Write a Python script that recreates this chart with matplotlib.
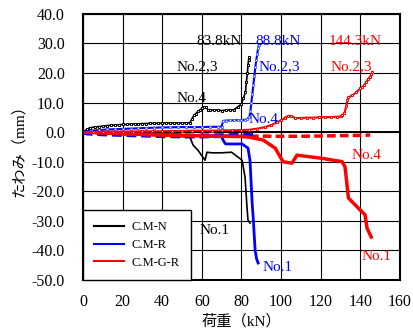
import matplotlib.pyplot as plt
from matplotlib.lines import Line2D

# --- data (load kN, deflection mm) ---
# C.M-N (black)
n1_x = [0, 10, 20, 30, 40, 50, 54, 55.6, 58, 61.6, 62.6, 65, 70, 75, 80.3, 81.8, 82.8, 83.3, 84.3]
n1_y = [0, -0.3, -0.6, -0.9, -1.2, -1.5, -1.7, -4.4, -6.1, -9.5, -6.8, -7.0, -7.0, -6.8, -9.5, -15.2, -25.4, -29.8, -30.8]
n23_x = [0, 2, 3.5, 6, 8, 10, 12, 14, 16, 18, 20, 22, 24, 26, 28, 30, 32, 34, 36, 38, 40, 42, 44, 46,
         48, 50, 52, 54, 55, 56, 57, 58, 59, 60, 61, 62, 63, 64, 66, 68, 70, 72, 74, 76, 78, 80, 81,
         82, 82.5, 83, 83.3, 83.6, 83.8]
n23_y = [0, 1.0, 1.5, 1.7, 1.9, 2.0, 2.2, 2.3, 2.4, 2.5, 2.6, 2.6, 2.7, 2.8, 2.8, 2.9, 2.9, 3.0, 3.0,
         3.0, 3.0, 3.1, 3.1, 3.1, 3.1, 3.1, 3.1, 3.2, 4.5, 5.7, 6.3, 7.0, 7.5, 8.0, 8.5, 8.6, 7.5, 7.6,
         7.4, 7.5, 7.3, 7.4, 7.6, 7.5, 8.5, 9.5, 11.5, 13.5, 17.0, 20.0, 22.7, 24.4, 25.4]
n4_x = [0, 10, 20, 30, 40, 50, 60, 70, 80, 83.8]
n4_y = [0, -0.4, -0.6, -0.8, -0.9, -1.0, -1.1, -1.1, -1.2, -1.2]

# C.M-R (blue)
r1_x = [0, 10, 20, 30, 40, 50, 60, 70, 70.7, 72, 76, 80.3, 83.3, 84.3, 85.4, 86, 86.9, 87.6, 88.4]
r1_y = [0, -0.2, -0.4, -0.6, -0.8, -1.0, -1.2, -1.4, -2.7, -4.0, -4.0, -4.0, -5.4, -9.5, -24.0, -29.8, -40.0, -42.8, -44.3]
r23_x = [0, 4, 8, 12, 16, 20, 24, 28, 32, 36, 40, 44, 48, 52, 56, 60, 64, 68, 70, 70.7, 72, 74, 76,
         78, 80, 82, 83, 84, 84.5, 85, 85.5, 86, 86.5, 87, 87.5, 88, 88.4, 88.8]
r23_y = [0, 0.5, 0.7, 0.9, 1.0, 1.1, 1.2, 1.3, 1.4, 1.5, 1.6, 1.6, 1.7, 1.7, 1.7, 1.7, 1.8, 1.8, 1.9,
         3.8, 3.9, 4.0, 4.0, 4.1, 4.1, 4.2, 4.5, 5.2, 7.0, 10.0, 13.0, 16.0, 19.0, 22.0, 24.5, 26.5,
         28.5, 29.5]
r4_x = [0, 2, 10, 20, 30, 40, 50, 54, 60, 70, 80, 88]
r4_y = [0, -0.3, -0.6, -0.8, -1.0, -1.2, -1.3, -1.35, -1.3, -1.2, -1.1, -1.0]

# C.M-G-R (red)
g1_x = [0, 20, 40, 60, 80, 84, 91, 97, 101, 105.5, 108, 120, 130.8, 132.3, 134, 140, 142.4, 143.4, 145.5]
g1_y = [0, -0.6, -1.0, -1.3, -1.5, -1.7, -2.7, -5.4, -10.0, -10.5, -7.8, -8.8, -10.0, -11.8, -22.3, -26.4, -28.0, -32.5, -35.5]
g23_x = [0, 5, 10, 15, 20, 25, 30, 35, 40, 45, 50, 55, 60, 65, 70, 75, 80, 84, 88, 92, 95, 98, 100,
         102, 103.5, 105, 107, 110, 113, 116, 119, 122, 125, 128, 130, 131, 132, 133, 133.5, 134,
         136, 138, 140, 141, 142, 143, 144, 145, 145.5, 146]
g23_y = [0, 0.1, 0.1, 0.2, 0.2, 0.2, 0.3, 0.3, 0.3, 0.4, 0.4, 0.5, 0.5, 0.5, 0.6, 0.6, 0.7, 0.8, 1.2,
         1.7, 2.4, 3.3, 4.0, 4.9, 5.5, 5.5, 4.8, 4.8, 4.9, 4.9, 5.0, 5.1, 5.1, 5.2, 5.3, 5.8, 6.5, 9.0,
         11.0, 11.8, 12.4, 13.5, 14.8, 15.2, 15.9, 17.0, 18.0, 18.8, 19.6, 20.3]
g4_x = [0, 20, 40, 60, 80, 89, 100, 110, 120, 130, 140, 145]
g4_y = [0, -0.5, -0.9, -1.2, -1.4, -1.35, -1.4, -1.4, -1.3, -1.2, -1.1, -1.0]

x_ticks = list(range(0, 161, 20))
y_ticks = list(range(-50, 41, 10))

serif = ['Liberation Serif', 'Noto Sans CJK JP']

fig = plt.figure(figsize=(4.14, 3.32), dpi=100)
ax = fig.add_axes([0.2005, 0.157, 0.7655, 0.801])

ax.set_xlim(0, 160)
ax.set_ylim(-50, 40)
ax.set_xticks(x_ticks)
ax.set_yticks(y_ticks)
ax.set_yticklabels(['%.1f' % v for v in y_ticks])
ax.grid(True, color='black', lw=0.8)
ax.set_axisbelow(True)
ax.tick_params(length=0, labelsize=11.5)
ax.tick_params(axis='y', pad=13)
ax.tick_params(axis='x', pad=10)
for lab in ax.get_xticklabels() + ax.get_yticklabels():
    lab.set_family(serif)
for s in ax.spines.values():
    s.set_linewidth(1.5)
ax.axhline(0, color='black', lw=1.4, zorder=1)

mk = dict(marker='s', ms=1.8, mfc='white', mew=0.7)

# No.4 dashed
ax.plot(n4_x, n4_y, color='black', lw=1.2, ls=(0, (3, 1.5)), zorder=1.5)
ax.plot(g4_x, g4_y, color='red', lw=2.5, ls=(0, (2.5, 1.2)))
ax.plot(r4_x, r4_y, color='blue', lw=3.5, ls=(0, (2, 1)))
# No.1 solid
ax.plot(n1_x, n1_y, color='black', lw=1.2)
ax.plot(r1_x, r1_y, color='blue', lw=2.0)
ax.plot(g1_x, g1_y, color='red', lw=2.5)
# No.2,3 with markers
ax.plot(n23_x, n23_y, color='black', lw=1.2, mec='black', **mk)
ax.plot(r23_x, r23_y, color='blue', lw=1.5, mec='#4d6bff', **mk)
ax.plot(g23_x, g23_y, color='red', lw=1.5, mec='red', **mk)

# annotations
tk = dict(fontsize=11, family=serif, ha='left', va='center')
ax.text(57, 30.8, '83.8kN', color='black', **tk)
ax.text(87, 30.8, '88.8kN', color='blue', **tk)
ax.text(124, 30.8, '144.3kN', color='red', **tk)
ax.text(47, 22.3, 'No.2,3', color='black', **tk)
ax.text(88.5, 22.3, 'No.2,3', color='blue', **tk)
ax.text(125, 22.3, 'No.2,3', color='red', **tk)
ax.text(47, 11.5, 'No.4', color='black', **tk)
ax.text(83.5, 4.4, 'No.4', color='blue', **tk)
ax.text(135.5, -7.8, 'No.4', color='red', **tk)
ax.text(59, -33.2, 'No.1', color='black', **tk)
ax.text(90.5, -45.7, 'No.1', color='blue', **tk)
ax.text(140.5, -42, 'No.1', color='red', **tk)

handles = [Line2D([], [], color='black', lw=1.5),
           Line2D([], [], color='blue', lw=1.5),
           Line2D([], [], color='red', lw=1.5)]
leg = ax.legend(handles, ['C.M-N', 'C.M-R', 'C.M-G-R'], loc='lower left',
                bbox_to_anchor=(0, 0), borderaxespad=0, fancybox=False,
                edgecolor='black', framealpha=1, prop={'family': serif, 'size': 9},
                handlelength=2.4, labelspacing=0.45, borderpad=0.9, handletextpad=0.6)
leg.get_frame().set_linewidth(1.0)

ax.set_xlabel('荷重（kN）', fontsize=11, family=serif, labelpad=3)
ax.set_ylabel('たわみ（mm）', fontsize=11, family=serif, labelpad=4)

fig.savefig('out.png', dpi=100)
